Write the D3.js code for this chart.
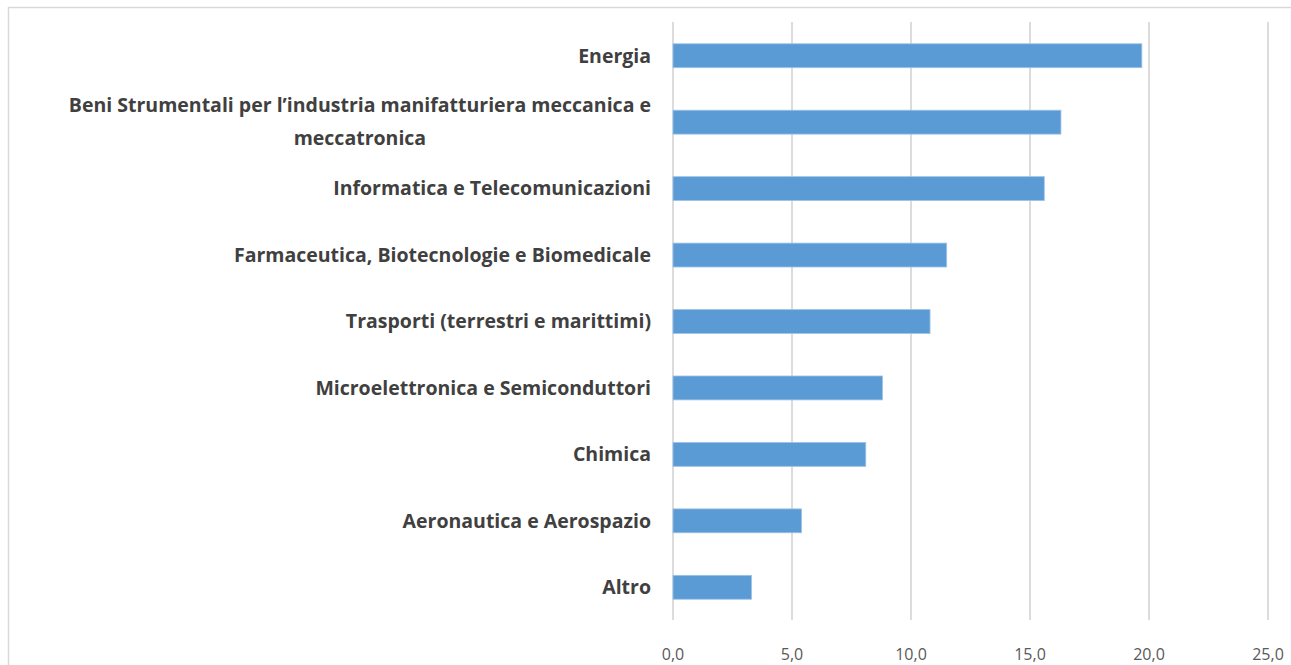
<!DOCTYPE html>
<html><head><meta charset="utf-8">
<script src="https://cdn.jsdelivr.net/npm/d3@7"></script>
<style>html,body{margin:0;padding:0;background:#fff;}svg{display:block;}</style>
</head><body>
<svg id="c" width="1291" height="665"></svg>
<script>
const categories = [
  "Energia",
  "Beni Strumentali per l\u2019industria manifatturiera meccanica e|meccatronica",
  "Informatica e Telecomunicazioni",
  "Farmaceutica, Biotecnologie e Biomedicale",
  "Trasporti (terrestri e marittimi)",
  "Microelettronica e Semiconduttori",
  "Chimica",
  "Aeronautica e Aerospazio",
  "Altro"
];
const values = [19.7, 16.3, 15.6, 11.5, 10.8, 8.8, 8.1, 5.4, 3.3];
const tickValues = [0, 5, 10, 15, 20, 25];

const svg = d3.select("#c");
svg.append("path").attr("d","M8.5,665 V7.5 H1291").attr("fill","none").attr("stroke","#d9d9d9").attr("stroke-width",1.5);

const x = d3.scaleLinear().domain([0,25]).range([673,1268]);
const y = d3.scaleBand().domain(categories).range([22.5,620.5]).paddingInner(0.64).paddingOuter(0.32);

svg.append("g").selectAll("line").data(tickValues).join("line")
  .attr("x1",d=>x(d)).attr("x2",d=>x(d)).attr("y1",22).attr("y2",620)
  .attr("stroke","#d0d0d0").attr("stroke-width",1.5);

svg.append("g").selectAll("rect").data(values).join("rect")
  .attr("x",x(0)).attr("y",(d,i)=>y(categories[i]))
  .attr("width",d=>x(d)-x(0)).attr("height",y.bandwidth())
  .attr("fill","#5b9bd5").attr("stroke","#9fc3e7").attr("stroke-width",0.8);

const fmt = d => d3.format(".1f")(d).replace(".",",");
svg.append("g").selectAll("text").data(tickValues).join("text")
  .attr("x",d=>x(d)).attr("y",660).attr("text-anchor","middle")
  .attr("font-family","Open Sans, sans-serif").attr("font-size",16).attr("fill","#595959")
  .text(fmt);

const lg = svg.append("g").attr("font-family","Open Sans, sans-serif").attr("font-weight",700)
  .attr("font-size",19.5).attr("fill","#404040");
categories.forEach((c,i)=>{
  const lines = c.split("|");
  const cy = y(c)+y.bandwidth()/2;
  const lh = 33;
  if(lines.length===1){
    lg.append("text").attr("x",651).attr("y",cy).attr("dy","0.35em").attr("text-anchor","end").text(lines[0]);
  } else {
    const t = lg.append("text").attr("text-anchor","middle");
    lines.forEach((l,k)=>{
      t.append("tspan").attr("y",cy+(k-(lines.length-1)/2)*lh).attr("dy","0.35em").text(l);
    });
    const w = d3.max(t.selectAll("tspan").nodes(),n=>n.getComputedTextLength());
    t.selectAll("tspan").attr("x",651-w/2);
  }
});
</script>
</body></html>
